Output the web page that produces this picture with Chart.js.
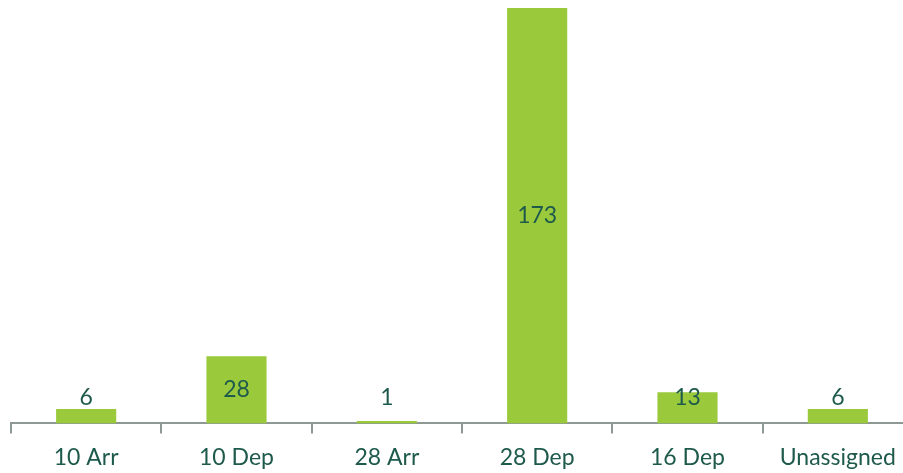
<!DOCTYPE html>
<html>
<head>
<meta charset="utf-8">
<script src="https://cdn.jsdelivr.net/npm/chart.js@4"></script>
<style>
html,body{margin:0;padding:0;overflow:hidden;background:#fff;}
#wrap{position:absolute;left:0;top:0;width:913px;height:484px;}
</style>
</head>
<body>
<div id="wrap"><canvas id="c"></canvas></div>
<script>
const categories = ["10 Arr", "10 Dep", "28 Arr", "28 Dep", "16 Dep", "Unassigned"];
const counts = [6, 28, 1, 173, 13, 6];

const textColor = "#1E5A4C";
const labelFont = {family: "Lato", size: 23};

const valueLabels = {
  id: "valueLabels",
  afterDatasetsDraw(chart) {
    const ctx = chart.ctx;
    const meta = chart.getDatasetMeta(0);
    const axisY = chart.scales.y.getPixelForValue(0);
    ctx.save();
    ctx.fillStyle = textColor;
    ctx.font = labelFont.size + "px " + labelFont.family;
    ctx.textAlign = "center";
    ctx.textBaseline = "middle";
    meta.data.forEach((bar, i) => {
      const center = (bar.y + bar.base) / 2;
      const y = Math.min(center, axisY - 26);
      ctx.fillText(String(counts[i]), bar.x, y);
    });
    ctx.restore();
  }
};

new Chart(document.getElementById("c"), {
  type: "bar",
  data: {
    labels: categories,
    datasets: [{
      data: counts,
      backgroundColor: "#9ACA3C",
      borderWidth: 0,
      categoryPercentage: 1,
      barPercentage: 0.4
    }]
  },
  options: {
    responsive: true,
    maintainAspectRatio: false,
    animation: false,
    layout: {padding: {left: 11, right: 0, top: 8, bottom: 3}},
    plugins: {legend: {display: false}, tooltip: {enabled: false}},
    scales: {
      y: {display: false, min: 0, max: 173},
      x: {
        grid: {drawOnChartArea: false, drawTicks: true, tickLength: 10, color: "#8E9994", lineWidth: 2, offset: true},
        border: {display: true, color: "#8E9994", width: 2},
        ticks: {color: textColor, font: labelFont, padding: 10, maxRotation: 0, autoSkip: false}
      }
    }
  },
  plugins: [valueLabels]
});
</script>
</body>
</html>
